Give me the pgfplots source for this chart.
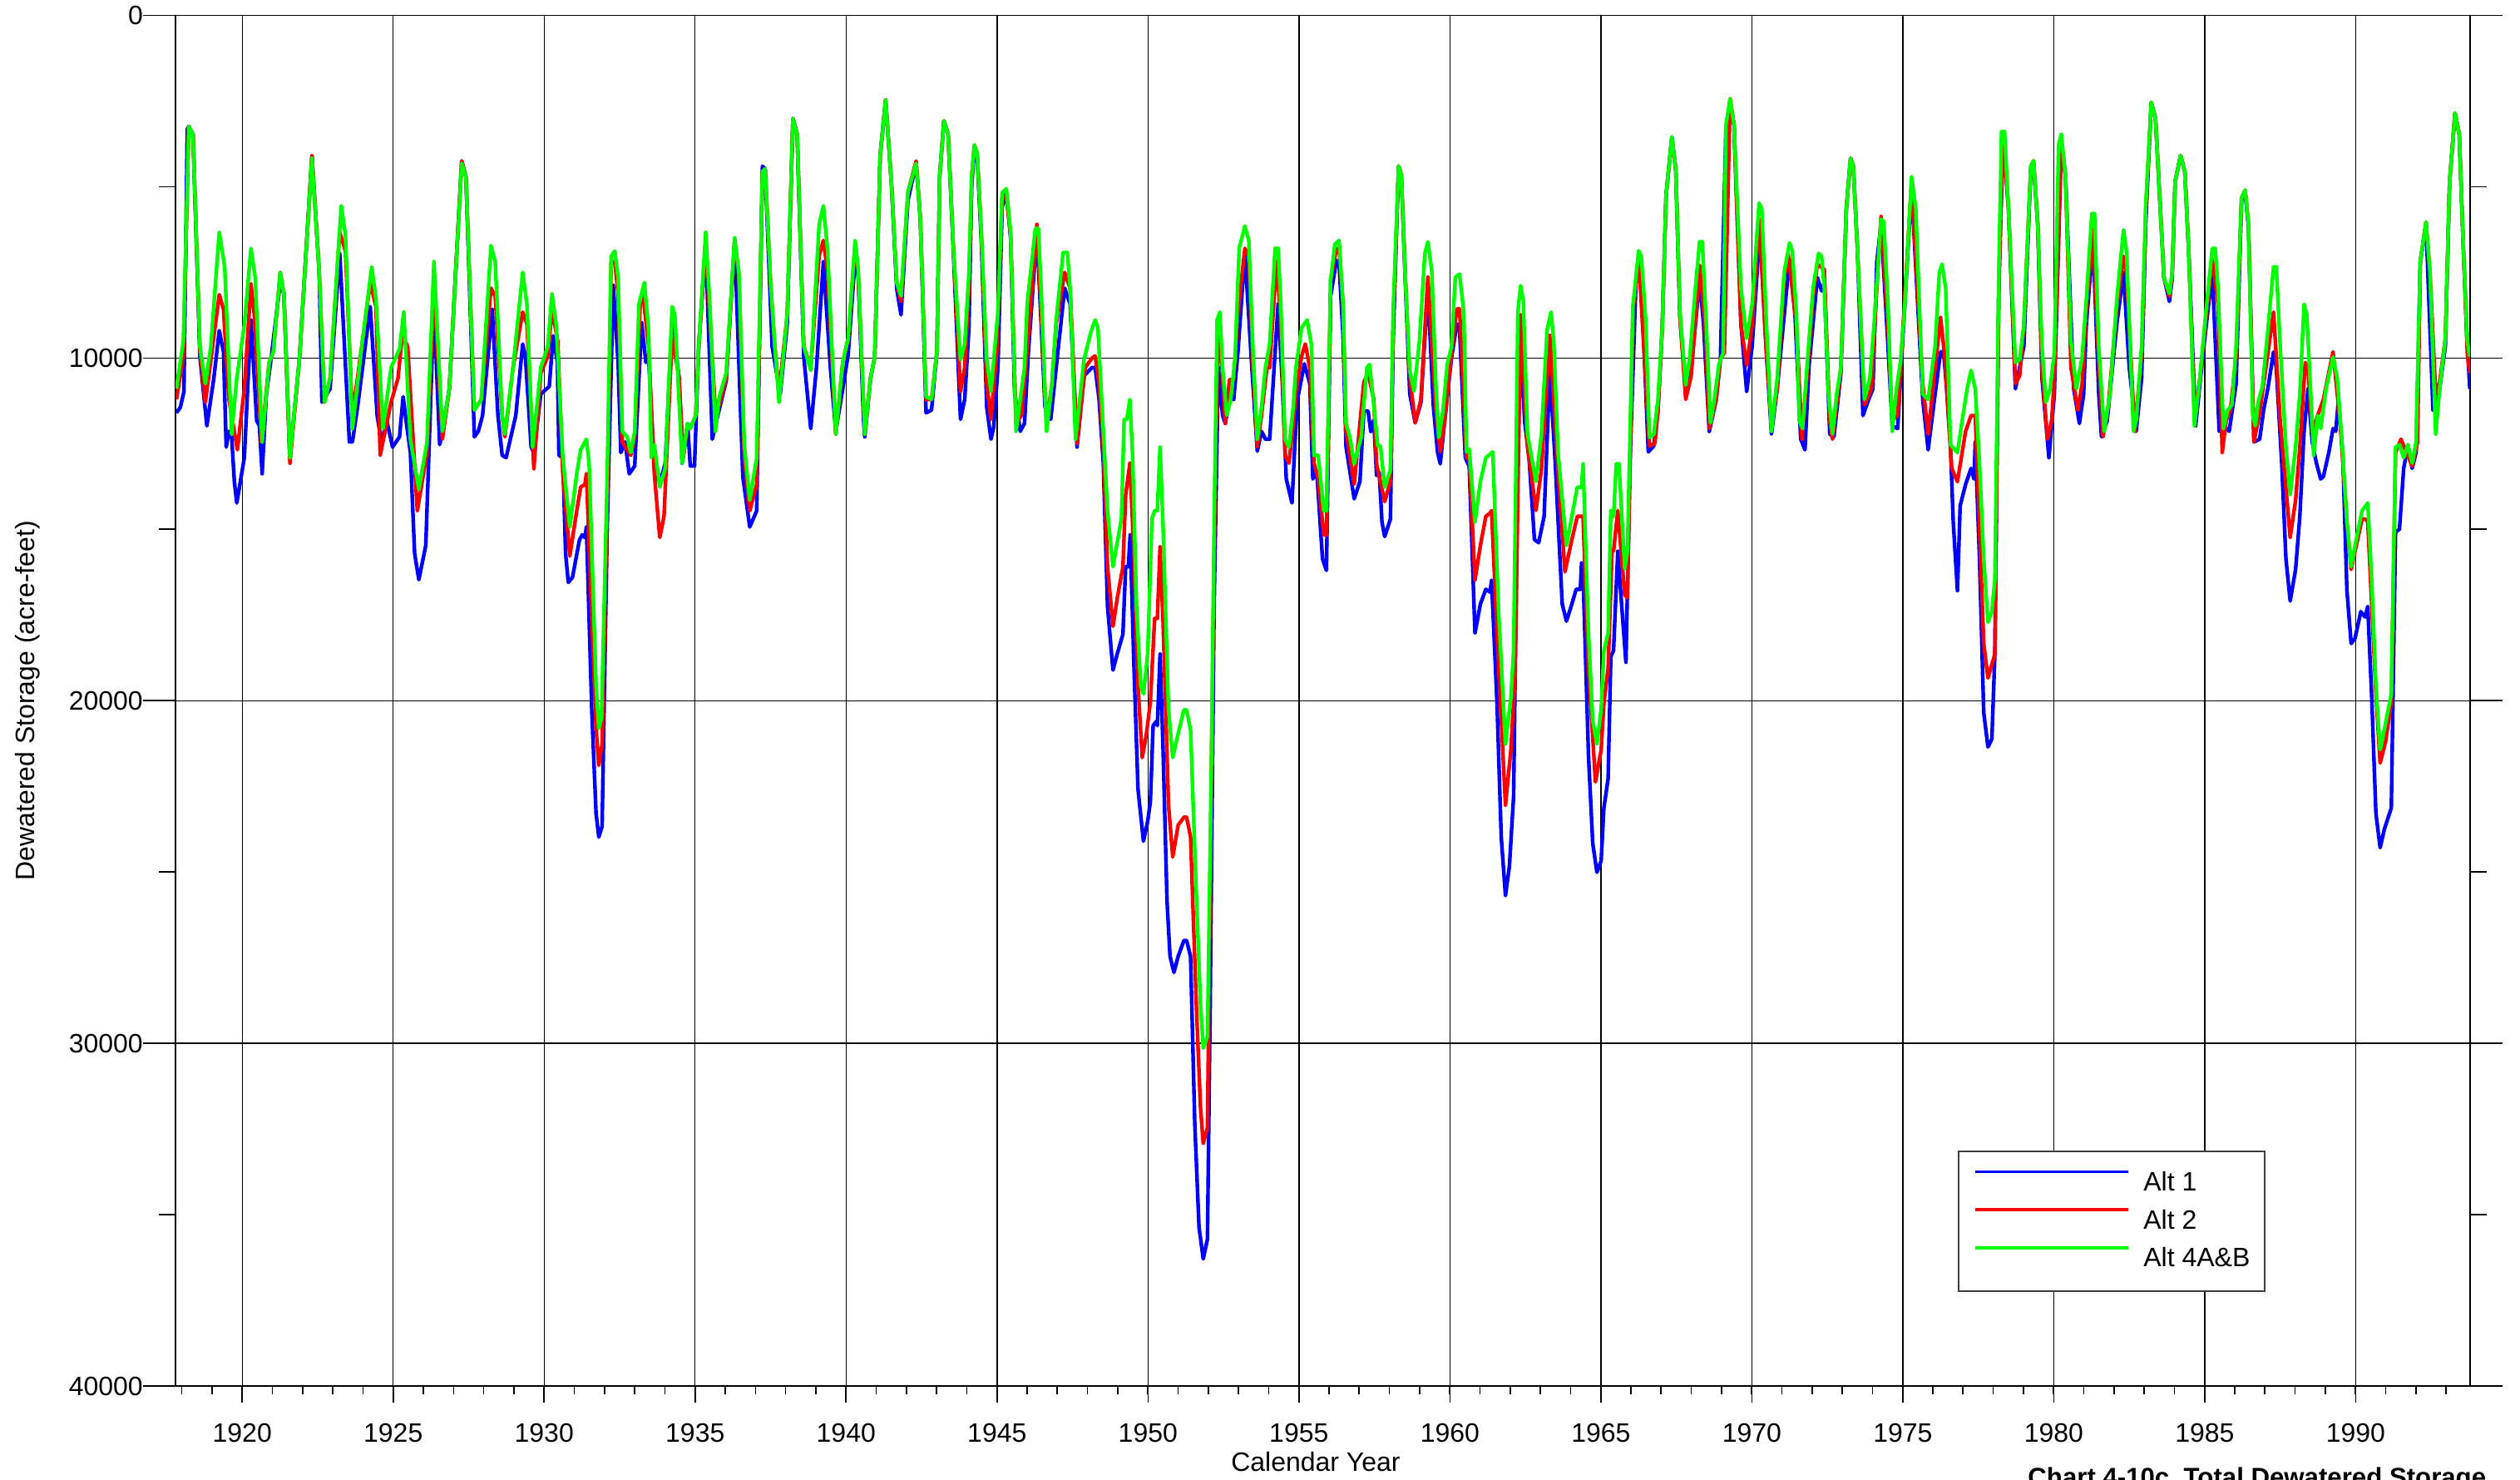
\documentclass[border=0pt]{standalone}
\usepackage{fontspec}
\setmainfont{Liberation Sans}
\usepackage{pgfplots}
\pgfplotsset{compat=1.18}
\definecolor{altblue}{RGB}{0,0,255}
\definecolor{altred}{RGB}{255,0,0}
\definecolor{altgreen}{RGB}{0,255,0}
\begin{document}
\begin{tikzpicture}
\begin{axis}[
  scale only axis, width=689.75pt, height=411.9pt,
  xmin=1917.79, xmax=1993.79, ymin=0, ymax=40000, y dir=reverse,
  xtick={1920,1925,...,1990}, minor xtick={1918,...,1993},
  ytick={0,10000,...,40000}, minor ytick={5000,15000,25000,35000},
  tick align=outside, xtick pos=left, ytick pos=both,
  xmajorgrids, ymajorgrids,
  grid style={black, line width=0.35pt},
  axis line style={black, line width=0.4pt},
  tick style={black, line width=0.4pt},
  xtick style={/pgfplots/major tick length=5pt, /pgfplots/minor tick length=2.5pt},
  ytick style={/pgfplots/major tick length=9.75pt, /pgfplots/minor tick length=5pt},
  scaled y ticks=false, scaled x ticks=false,
  /pgf/number format/1000 sep={},
  /pgf/number format/assume math mode=true,
  ticklabel style={font=\fontsize{8}{9.6}\selectfont},
  yticklabel style={xshift=-2pt},
  xticklabel style={yshift=-3.5pt},
  label style={font=\fontsize{8}{9.6}\selectfont},
  xlabel={Calendar Year},
  xlabel style={at={(axis description cs:0.4969,-0.0619)}, anchor=base},
  ylabel={Dewatered Storage (acre-feet)},
  ylabel style={at={(axis description cs:-0.0645,0.5)}, anchor=center},
  legend cell align=left,
  legend image code/.code={\draw[#1, line width=0.9pt] (0pt,0.36em) -- (46pt,0.36em);},
  legend style={at={(axis description cs:0.911,0.172)}, anchor=north east,
    draw=black!75, line width=0.5pt, fill=white,
    font=\fontsize{8}{9.6}\selectfont,
    inner xsep=4.5pt, inner ysep=5.8pt, row sep=3.7pt, column sep=4.25pt,
    nodes={inner sep=0pt}},
  every axis plot/.append style={line width=1.1pt, line join=round},
]
% Alt 1
\addplot[altblue] coordinates {
(1917.82,11600) (1917.95,11440) (1918.07,10980) (1918.18,3320) (1918.23,3240) (1918.37,3470) (1918.60,9970) (1918.83,11980) (1919.06,10590) (1919.24,9200) (1919.38,9820) (1919.47,12600) (1919.56,12140) (1919.65,12300) (1919.74,13610) (1919.82,14230) (1920.07,12910) (1920.29,8890) (1920.48,11830) (1920.57,11980) (1920.66,13380) (1920.80,11050) (1920.94,10130) (1921.26,7800) (1921.38,8120) (1921.58,12910) (1921.90,9970) (1922.31,4100) (1922.55,7500) (1922.64,11290) (1922.91,10900) (1923.23,6950) (1923.55,12450) (1923.65,12450) (1923.83,11370) (1924.24,8500) (1924.47,11680) (1924.61,12450) (1924.79,11830) (1924.98,12600) (1925.21,12300) (1925.33,11130) (1925.44,11910) (1925.57,12760) (1925.71,15700) (1925.85,16470) (1926.08,15470) (1926.35,8430) (1926.54,12530) (1926.63,12140) (1926.86,10900) (1927.27,4250) (1927.41,4710) (1927.69,12300) (1927.82,12140) (1927.96,11680) (1928.28,8580) (1928.47,11680) (1928.61,12840) (1928.74,12910) (1929.06,11680) (1929.29,9590) (1929.38,9970) (1929.57,12600) (1929.66,12760) (1929.89,11050) (1930.17,10830) (1930.30,9350) (1930.44,10130) (1930.49,12840) (1930.62,12910)
(1930.71,15700) (1930.80,16550) (1930.94,16400) (1931.17,15310) (1931.26,15160) (1931.35,15240) (1931.40,14930) (1931.58,20340) (1931.72,23290) (1931.81,23980) (1931.92,23670) (1932.09,14930) (1932.29,7880) (1932.45,10130) (1932.54,12760) (1932.68,12450) (1932.82,13380) (1933.00,13150) (1933.23,8970) (1933.37,10130) (1933.46,9970) (1933.65,13220) (1933.74,13530) (1933.92,13380) (1934.01,13070) (1934.24,8890) (1934.47,10590) (1934.57,13070) (1934.75,11910) (1934.84,13150) (1934.98,13150) (1935.12,9660) (1935.35,6720) (1935.57,12370) (1935.71,11830) (1936.03,10670) (1936.31,6570) (1936.58,13460) (1936.81,14930) (1937.04,14460) (1937.23,4400) (1937.32,4480) (1937.55,9660) (1937.82,11050) (1938.05,9040) (1938.24,3010) (1938.38,3470) (1938.60,9970) (1938.83,12060) (1939.02,10280) (1939.25,7190) (1939.48,10280) (1939.66,12140) (1939.89,10900) (1940.07,9900) (1940.30,7110) (1940.40,7600) (1940.58,11830) (1940.62,12300) (1940.81,10590) (1940.95,9970) (1941.13,4090) (1941.31,2470) (1941.50,4860) (1941.68,8000) (1941.82,8740) (1942.05,5400) (1942.32,4320) (1942.46,5950) (1942.65,11600) (1942.83,11520) (1943.01,9820) (1943.10,4710) (1943.24,3080) (1943.38,3470) (1943.56,7000)
(1943.79,11790) (1943.93,11210) (1944.07,9120) (1944.16,5000) (1944.25,3900) (1944.34,4100) (1944.48,6600) (1944.66,11440) (1944.80,12370) (1944.89,12020) (1945.03,10280) (1945.17,5600) (1945.31,5170) (1945.45,6500) (1945.58,10980) (1945.77,12140) (1945.91,11910) (1946.04,9820) (1946.32,6330) (1946.59,11440) (1946.78,11790) (1946.96,10280) (1947.24,7960) (1947.33,8200) (1947.42,8420) (1947.65,12600) (1947.88,10520) (1948.15,10280) (1948.25,10280) (1948.38,11210) (1948.52,13070) (1948.66,17250) (1948.84,19110) (1948.98,18640) (1949.17,18060) (1949.26,16090) (1949.35,16090) (1949.41,15160) (1949.53,18870) (1949.67,22590) (1949.85,24100) (1949.99,23520) (1950.08,22940) (1950.17,20730) (1950.27,20610) (1950.31,20730) (1950.40,18640) (1950.50,21430) (1950.63,25840) (1950.73,27460) (1950.86,27930) (1951.00,27460) (1951.19,27000) (1951.28,27000) (1951.41,27460) (1951.55,32340) (1951.69,35360) (1951.83,36290) (1951.97,35710) (1952.06,28860) (1952.19,17250) (1952.33,10280) (1952.47,11670) (1952.56,11910) (1952.70,11210) (1952.84,11210) (1952.98,9820) (1953.21,6920) (1953.44,10280) (1953.62,12720) (1953.76,12140) (1953.89,12370) (1954.03,12370) (1954.31,8420) (1954.45,10750) (1954.58,13530) (1954.77,14230) (1954.86,12600) (1954.95,11210) (1955.18,10170) (1955.36,10750) (1955.46,13530) (1955.59,13300) (1955.78,15860) (1955.91,16200) (1956.05,8200) (1956.24,7150) (1956.33,7260) (1956.46,9350) (1956.56,12600)
(1956.83,14110) (1957.02,13600) (1957.15,11550) (1957.29,11550) (1957.38,12150) (1957.48,11810) (1957.57,13430) (1957.66,13340) (1957.75,14790) (1957.84,15210) (1958.03,14700) (1958.12,9500) (1958.30,4400) (1958.39,4660) (1958.53,7900) (1958.67,11040) (1958.85,11890) (1959.04,11300) (1959.27,7980) (1959.45,11380) (1959.59,12740) (1959.68,13090) (1959.82,11890) (1960.05,10020) (1960.23,9000) (1960.32,9170) (1960.51,12910) (1960.64,13170) (1960.83,18030) (1961.01,17180) (1961.19,16750) (1961.33,16830) (1961.38,16490) (1961.56,20070) (1961.70,23980) (1961.84,25690) (1961.97,24840) (1962.11,22790) (1962.25,12920) (1962.34,9680) (1962.48,11890) (1962.62,12910) (1962.80,15300) (1962.94,15390) (1963.12,14620) (1963.31,10360) (1963.49,13090) (1963.72,17180) (1963.86,17680) (1964.04,17180) (1964.18,16750) (1964.32,16750) (1964.36,15980) (1964.41,16320) (1964.59,21600) (1964.73,24160) (1964.87,25010) (1965.01,24670) (1965.10,23130) (1965.24,22280) (1965.33,18710) (1965.42,18540) (1965.56,15640) (1965.70,17350) (1965.83,18880) (1965.97,12920) (1966.16,7810) (1966.25,7640) (1966.34,7810) (1966.57,12740) (1966.75,12570) (1966.89,11550) (1967.03,9170) (1967.16,5250) (1967.35,3550) (1967.48,4480) (1967.62,8830) (1967.81,10870) (1967.99,10360) (1968.27,7720) (1968.40,9000) (1968.59,12150) (1968.82,11210) (1968.96,10020) (1969.14,3380) (1969.28,2530) (1969.41,3210)
(1969.64,9000) (1969.83,10980) (1970.01,9660) (1970.27,6260) (1970.47,9660) (1970.65,12220) (1970.84,10900) (1971.25,7110) (1971.43,8740) (1971.62,12370) (1971.76,12680) (1971.89,10280) (1972.17,7650) (1972.31,8040) (1972.40,7800) (1972.58,12220) (1972.72,12300) (1972.95,10440) (1973.13,5640) (1973.27,4170) (1973.36,4400) (1973.50,6880) (1973.68,11680) (1973.87,11210) (1974.01,10900) (1974.14,7190) (1974.28,6100) (1974.51,9660) (1974.65,11980) (1974.83,12060) (1974.97,9900) (1975.29,5020) (1975.66,11210) (1975.84,12680) (1976.07,11050) (1976.25,9820) (1976.35,9820) (1976.44,10750) (1976.58,12600) (1976.67,14770) (1976.81,16790) (1976.90,14310) (1977.08,13690) (1977.26,13220) (1977.36,13530) (1977.40,12450) (1977.54,15860) (1977.68,20340) (1977.82,21350) (1977.95,21120) (1978.05,18640) (1978.18,7960) (1978.32,3550) (1978.50,5640) (1978.73,10900) (1979.01,9660) (1979.24,4480) (1979.33,4320) (1979.47,6100) (1979.61,10590) (1979.84,12910) (1980.02,11050) (1980.25,3700) (1980.39,4710) (1980.66,10900) (1980.85,11910) (1980.99,11050) (1981.08,9000) (1981.30,6570) (1981.49,11050) (1981.58,12300) (1981.77,11830) (1982.09,9000) (1982.31,7500) (1982.50,10280)
(1982.73,12140) (1982.91,10590) (1983.05,6000) (1983.23,2540) (1983.37,3010) (1983.51,5330) (1983.65,7650) (1983.83,8350) (1983.92,7700) (1984.02,4860) (1984.20,4090) (1984.34,4550) (1984.47,6880) (1984.70,11980) (1984.84,10750) (1985.03,9200) (1985.25,7500) (1985.48,12140) (1985.62,11980) (1985.81,12140) (1986.04,10750) (1986.22,5400) (1986.34,5170) (1986.45,6200) (1986.63,12450) (1986.82,12370) (1986.95,11520) (1987.09,10900) (1987.28,9820) (1987.37,10280) (1987.55,13070) (1987.69,15860) (1987.83,17090) (1988.01,16170) (1988.15,14620) (1988.29,12140) (1988.42,10900) (1988.56,12450) (1988.70,13070) (1988.84,13530) (1988.93,13460) (1989.11,12760) (1989.25,12060) (1989.34,12140) (1989.43,11210) (1989.57,12760) (1989.71,16790) (1989.85,18330) (1989.98,18180) (1990.17,17400) (1990.31,17560) (1990.40,17250) (1990.53,19880) (1990.67,23290) (1990.81,24290) (1990.95,23750) (1991.18,23130) (1991.32,15080) (1991.45,15000) (1991.59,13220) (1991.73,12530) (1991.87,13220) (1992.00,12760) (1992.14,7190) (1992.33,6100) (1992.56,11520) (1992.65,11520) (1992.78,10900) (1992.97,9660) (1993.11,4860) (1993.29,2850) (1993.43,3470) (1993.57,6880) (1993.70,9660) (1993.78,10900)
};
\addlegendentry{Alt 1}
% Alt 2
\addplot[altred] coordinates {
(1917.82,11210) (1918.05,9970) (1918.23,3240) (1918.37,3470) (1918.60,9800) (1918.78,11290) (1919.24,8150) (1919.38,8580) (1919.56,11210) (1919.84,12680) (1920.07,10900) (1920.29,7840) (1920.40,8740) (1920.64,12450) (1920.89,10130) (1921.03,9820) (1921.26,7500) (1921.38,8120) (1921.58,13070) (1921.90,9970) (1922.31,4100) (1922.55,7500) (1922.73,11290) (1922.91,10590) (1923.23,6330) (1923.42,6880) (1923.65,11680) (1923.97,9590) (1924.24,7800) (1924.43,8500) (1924.57,12840) (1924.93,11290) (1925.16,10590) (1925.30,9350) (1925.48,9660) (1925.80,14460) (1926.12,12760) (1926.35,7960) (1926.63,12370) (1926.86,10900) (1927.27,4250) (1927.41,4710) (1927.69,11520) (1927.92,11210) (1928.24,7960) (1928.38,8200) (1928.61,11680) (1928.70,12300) (1928.97,10280) (1929.29,8660) (1929.43,9000) (1929.66,13230) (1929.89,10440) (1930.12,9950) (1930.26,8580) (1930.45,9500) (1930.62,13380)
(1930.85,15780) (1931.08,14460) (1931.21,13770) (1931.35,13690) (1931.40,13380) (1931.72,20810) (1931.81,21890) (1931.92,21270) (1932.09,14150) (1932.22,7190) (1932.34,7190) (1932.45,8120) (1932.59,12450) (1932.87,12840) (1933.00,12300) (1933.19,8270) (1933.28,8190) (1933.46,9660) (1933.65,13380) (1933.83,15240) (1933.97,14620) (1934.24,9350) (1934.47,10590) (1934.61,12910) (1934.75,11980) (1934.84,12060) (1935.02,11680) (1935.12,9660) (1935.35,6720) (1935.67,11520) (1935.80,11370) (1936.03,10590) (1936.31,6570) (1936.45,7600) (1936.63,12910) (1936.81,14460) (1937.04,13690) (1937.23,4560) (1937.32,4480) (1937.50,7800) (1937.64,9660) (1937.78,11000) (1938.05,8740) (1938.24,3010) (1938.38,3470) (1938.60,9660) (1938.83,10280) (1939.11,7000) (1939.25,6570) (1939.39,7500) (1939.66,12220) (1939.89,10130) (1940.07,9430) (1940.30,6720) (1940.40,7500) (1940.62,12220) (1940.81,10590) (1940.95,9970) (1941.13,4090) (1941.31,2470) (1941.50,4860) (1941.68,7800) (1941.82,8350) (1942.05,5170) (1942.32,4250) (1942.46,5950) (1942.65,11210) (1942.83,11210) (1943.01,9820) (1943.10,4710) (1943.24,3080) (1943.38,3470) (1943.56,6880)
(1943.79,10980) (1943.93,10280) (1944.07,7960) (1944.16,4710) (1944.25,3780) (1944.34,4010) (1944.48,6330) (1944.66,10750) (1944.80,11790) (1944.99,9820) (1945.17,5300) (1945.31,5290) (1945.45,6400) (1945.63,11910) (1945.81,11670) (1945.95,10280) (1946.32,6100) (1946.64,11910) (1946.82,10750) (1946.96,9000) (1947.24,7500) (1947.42,7960) (1947.65,12490) (1947.92,10280) (1948.15,10000) (1948.25,9940) (1948.38,10750) (1948.52,12600) (1948.66,16090) (1948.84,17830) (1948.98,17020) (1949.17,16090) (1949.26,14000) (1949.40,13070) (1949.53,15620) (1949.67,19570) (1949.81,21660) (1949.95,20960) (1950.08,20030) (1950.22,17600) (1950.31,17600) (1950.40,15510) (1950.50,17710) (1950.68,23050) (1950.82,24560) (1951.00,23630) (1951.19,23400) (1951.28,23400) (1951.41,23980) (1951.60,28860) (1951.74,31880) (1951.83,32920) (1951.97,32460) (1952.10,21890) (1952.24,12600) (1952.33,9350) (1952.42,9820) (1952.56,11910) (1952.70,10630) (1952.84,10630) (1952.98,8650) (1953.21,6800) (1953.34,7030) (1953.48,10280) (1953.62,12600) (1953.76,11670) (1953.94,10280) (1954.03,10280) (1954.26,7150) (1954.40,8890) (1954.54,12840) (1954.67,13070) (1954.81,11910) (1954.90,10980) (1955.09,9940) (1955.21,9590) (1955.36,10280) (1955.50,13070) (1955.64,13530) (1955.82,15160) (1955.91,15160) (1956.05,7730) (1956.24,6800) (1956.33,6800) (1956.46,8420) (1956.56,12140)
(1956.83,13680) (1957.15,10700) (1957.29,10450) (1957.48,11210) (1957.57,13090) (1957.84,14190) (1958.03,13600) (1958.12,9000) (1958.30,4400) (1958.39,4660) (1958.53,7800) (1958.67,10530) (1958.85,11890) (1959.04,11210) (1959.27,7640) (1959.54,11550) (1959.68,12740) (1959.82,11890) (1960.05,9850) (1960.23,8570) (1960.32,8570) (1960.55,12910) (1960.64,12910) (1960.83,16490) (1961.01,15470) (1961.19,14620) (1961.33,14530) (1961.38,14450) (1961.56,18030) (1961.84,23050) (1962.02,21430) (1962.16,19220) (1962.34,8740) (1962.57,12570) (1962.85,14450) (1963.03,13260) (1963.31,9340) (1963.58,13260) (1963.81,16240) (1964.04,15300) (1964.22,14620) (1964.41,14620) (1964.59,19050) (1964.82,22370) (1965.01,21430) (1965.10,20070) (1965.24,19050) (1965.37,15640) (1965.42,15640) (1965.56,14450) (1965.79,16920) (1965.88,17000) (1966.06,8660) (1966.25,7040) (1966.61,12570) (1966.79,12490) (1966.89,11550) (1967.03,9170) (1967.16,5250) (1967.35,3630) (1967.48,4480) (1967.62,8830) (1967.81,11210) (1967.99,10530) (1968.27,7300) (1968.45,9000) (1968.59,12060) (1968.82,11210) (1968.96,10020) (1969.09,9850) (1969.28,2440) (1969.41,3210)
(1969.64,9040) (1969.83,10210) (1970.01,9040) (1970.24,5950) (1970.47,9660) (1970.65,11980) (1970.84,10900) (1971.07,7700) (1971.20,6950) (1971.48,9040) (1971.66,12370) (1971.85,10280) (1972.03,8200) (1972.17,7260) (1972.40,7420) (1972.58,11830) (1972.67,12370) (1972.95,10280) (1973.13,5640) (1973.27,4170) (1973.36,4400) (1973.50,6880) (1973.73,11370) (1973.96,10900) (1974.14,7960) (1974.28,5870) (1974.51,9040) (1974.65,11830) (1974.83,11670) (1974.97,9660) (1975.29,4860) (1975.66,10750) (1975.84,12220) (1976.07,10280) (1976.25,8810) (1976.39,9970) (1976.62,13220) (1976.81,13610) (1977.08,12140) (1977.26,11680) (1977.40,11680) (1977.54,14930) (1977.68,18330) (1977.82,19340) (1977.95,18950) (1978.05,18640) (1978.18,7960) (1978.32,3470) (1978.50,5640) (1978.73,10750) (1978.87,10520) (1979.01,9040) (1979.24,4400) (1979.33,4240) (1979.47,6100) (1979.61,10280) (1979.79,12370) (1979.93,11830) (1980.02,10590) (1980.25,3630) (1980.39,4710) (1980.57,10280) (1980.80,11520) (1980.94,10750) (1981.08,8500) (1981.30,6260) (1981.49,10130) (1981.63,12300) (1981.81,11370) (1982.09,8500) (1982.31,7030) (1982.41,7500)
(1982.68,12140) (1982.91,9900) (1983.05,5640) (1983.23,2540) (1983.37,3010) (1983.51,5330) (1983.65,7650) (1983.83,8200) (1983.92,7600) (1984.02,4860) (1984.20,4090) (1984.34,4550) (1984.47,6880) (1984.66,11680) (1984.84,10590) (1985.03,8900) (1985.25,7110) (1985.44,8430) (1985.58,12760) (1985.71,11830) (1985.85,11520) (1986.04,9970) (1986.22,5330) (1986.34,5100) (1986.45,6100) (1986.63,12450) (1986.82,11600) (1987.00,10440) (1987.28,8660) (1987.50,11830) (1987.83,15240) (1988.01,14150) (1988.15,12600) (1988.33,10130) (1988.42,10280) (1988.56,12140) (1988.74,11680) (1988.93,11210) (1989.25,9820) (1989.48,11830) (1989.71,14770) (1989.85,16170) (1990.21,14700) (1990.31,14700) (1990.40,14770) (1990.67,19800) (1990.81,21820) (1990.99,21200) (1991.18,20030) (1991.32,12760) (1991.50,12370) (1991.87,13150) (1992.05,12450) (1992.14,7190) (1992.33,6030) (1992.46,7500) (1992.65,11050) (1992.78,10700) (1992.97,9430) (1993.11,4860) (1993.29,2850) (1993.43,3470) (1993.57,6880) (1993.70,9900) (1993.78,10440)
};
\addlegendentry{Alt 2}
% Alt 4A&B
\addplot[altgreen] coordinates {
(1917.82,10900) (1918.05,9510) (1918.23,3240) (1918.37,3470) (1918.60,9660) (1918.78,10750) (1918.96,9660) (1919.24,6330) (1919.42,7340) (1919.65,12220) (1919.82,10590) (1920.07,9040) (1920.29,6800) (1920.43,7650) (1920.66,12450) (1920.89,10130) (1921.03,9820) (1921.26,7500) (1921.38,8120) (1921.58,12910) (1921.90,9970) (1922.31,4170) (1922.55,7500) (1922.73,11290) (1922.91,10590) (1923.28,5560) (1923.42,6410) (1923.65,12060) (1923.97,9590) (1924.29,7340) (1924.43,8270) (1924.66,12060) (1924.93,10280) (1925.21,9740) (1925.35,8660) (1925.57,12370) (1925.85,13840) (1926.12,12450) (1926.35,7190) (1926.63,12140) (1926.86,10900) (1927.27,4320) (1927.41,4710) (1927.69,11520) (1927.92,11210) (1928.24,6720) (1928.38,7190) (1928.61,11680) (1928.70,12220) (1928.97,10280) (1929.29,7500) (1929.43,8430) (1929.62,12600) (1929.89,10280) (1930.12,9660) (1930.26,8120) (1930.40,9040) (1930.62,12910)
(1930.85,14930) (1931.08,13380) (1931.21,12680) (1931.40,12370) (1931.49,13070) (1931.72,19570) (1931.81,20810) (1931.90,20500) (1932.09,13380) (1932.22,7030) (1932.34,6880) (1932.45,7650) (1932.59,12140) (1932.75,12300) (1932.87,12760) (1933.00,12140) (1933.14,8430) (1933.32,7800) (1933.46,9200) (1933.55,12910) (1933.65,12530) (1933.83,13770) (1934.01,13220) (1934.24,8500) (1934.33,8740) (1934.57,13070) (1934.75,11910) (1934.84,12060) (1935.02,11680) (1935.12,9660) (1935.35,6330) (1935.48,8270) (1935.67,12140) (1935.80,11130) (1936.03,10440) (1936.31,6490) (1936.45,7500) (1936.63,12530) (1936.81,14150) (1937.04,12910) (1937.23,4560) (1937.32,4480) (1937.50,7800) (1937.64,9660) (1937.78,11290) (1938.05,8740) (1938.24,3010) (1938.38,3470) (1938.60,9660) (1938.83,10360) (1939.11,6100) (1939.25,5560) (1939.39,6880) (1939.66,12220) (1939.89,10130) (1940.07,9430) (1940.30,6570) (1940.40,7340) (1940.62,12220) (1940.81,10590) (1940.95,9970) (1941.13,4090) (1941.31,2470) (1941.50,4860) (1941.68,7800) (1941.82,8190) (1942.05,5170) (1942.32,4320) (1942.46,5950) (1942.65,11130) (1942.83,11210) (1943.01,9820) (1943.10,4710) (1943.24,3080) (1943.38,3470) (1943.56,6880)
(1943.79,10050) (1943.93,9590) (1944.07,7500) (1944.16,4710) (1944.25,3780) (1944.34,4010) (1944.48,6330) (1944.66,10050) (1944.80,10980) (1945.03,8660) (1945.17,5170) (1945.31,5060) (1945.45,6330) (1945.63,12140) (1945.77,11210) (1945.91,10280) (1946.00,8420) (1946.27,6220) (1946.37,6220) (1946.46,7960) (1946.64,12140) (1946.82,10750) (1946.96,8890) (1947.19,6920) (1947.33,6920) (1947.42,7960) (1947.60,12370) (1947.88,10050) (1948.11,9240) (1948.25,8890) (1948.34,9120) (1948.48,11440) (1948.66,14460) (1948.84,16090) (1948.98,15390) (1949.12,14690) (1949.21,11790) (1949.30,11790) (1949.40,11210) (1949.49,12840) (1949.62,17250) (1949.76,19570) (1949.85,19800) (1949.99,18640) (1950.13,14690) (1950.22,14460) (1950.31,14460) (1950.40,12600) (1950.50,14930) (1950.68,20270) (1950.82,21660) (1951.00,20960) (1951.19,20270) (1951.28,20270) (1951.41,20850) (1951.60,25610) (1951.74,28860) (1951.83,30140) (1951.97,29790) (1952.10,21890) (1952.19,14930) (1952.29,8890) (1952.38,8660) (1952.47,10280) (1952.61,11670) (1952.74,11210) (1952.88,10050) (1953.02,6800) (1953.21,6150) (1953.34,6570) (1953.48,9820) (1953.62,12370) (1953.76,11440) (1953.89,10280) (1954.03,9590) (1954.21,6800) (1954.31,6800) (1954.40,8420) (1954.54,12370) (1954.67,12600) (1954.81,11440) (1954.90,10280) (1955.09,9120) (1955.27,8890) (1955.41,9590) (1955.50,12840) (1955.64,12840) (1955.82,14460) (1955.91,14460) (1956.05,7730) (1956.19,6680) (1956.33,6570) (1956.46,8420) (1956.56,11910)
(1956.69,12320) (1956.83,13090) (1957.06,12320) (1957.25,10280) (1957.34,10190) (1957.48,11380) (1957.61,12570) (1957.70,12570) (1957.84,13770) (1958.03,13260) (1958.12,8660) (1958.30,4400) (1958.39,4660) (1958.53,7800) (1958.67,10360) (1958.81,10960) (1958.99,9510) (1959.17,6950) (1959.27,6610) (1959.40,7470) (1959.54,10870) (1959.63,12320) (1959.77,11550) (1959.91,10190) (1960.05,9680) (1960.18,7640) (1960.32,7550) (1960.46,8660) (1960.55,12740) (1960.64,12660) (1960.83,14790) (1961.01,13600) (1961.19,12910) (1961.42,12740) (1961.61,17340) (1961.84,21260) (1962.02,19900) (1962.11,18540) (1962.25,8660) (1962.34,7890) (1962.43,8320) (1962.57,12230) (1962.85,13600) (1963.03,12230) (1963.22,9170) (1963.35,8660) (1963.44,9510) (1963.58,12740) (1963.86,15470) (1964.04,14620) (1964.22,13770) (1964.36,13770) (1964.41,13090) (1964.59,18030) (1964.73,20580) (1964.87,21260) (1965.01,20240) (1965.10,18540) (1965.24,18030) (1965.33,14450) (1965.42,14620) (1965.51,13090) (1965.60,13090) (1965.79,16150) (1965.88,15640) (1966.06,8490) (1966.25,6870) (1966.34,7040) (1966.48,8830) (1966.61,12320) (1966.75,12230) (1966.89,11210) (1967.03,9170) (1967.16,5250) (1967.35,3550) (1967.48,4480) (1967.62,8660) (1967.81,10790) (1967.94,10020) (1968.13,7980) (1968.27,6610) (1968.36,6610) (1968.50,9170) (1968.63,11890) (1968.77,11130) (1968.91,10190) (1969.05,9850) (1969.14,3210) (1969.28,2440) (1969.41,3210)
(1969.64,7960) (1969.83,9430) (1970.01,8430) (1970.24,5480) (1970.33,5640) (1970.47,8740) (1970.65,12140) (1970.84,10590) (1971.07,7500) (1971.25,6640) (1971.34,6880) (1971.48,8740) (1971.57,11830) (1971.68,12060) (1971.85,9970) (1972.03,7960) (1972.21,6950) (1972.31,7030) (1972.40,7960) (1972.54,11050) (1972.67,12220) (1972.81,11050) (1972.95,10280) (1973.13,5640) (1973.27,4170) (1973.36,4400) (1973.50,6880) (1973.73,11210) (1973.91,10590) (1974.05,9000) (1974.28,5950) (1974.37,6030) (1974.51,8430) (1974.65,12140) (1974.79,10900) (1974.92,10130) (1975.06,8580) (1975.29,4710) (1975.43,5640) (1975.66,11050) (1975.84,11210) (1976.07,9660) (1976.21,7500) (1976.30,7260) (1976.42,7960) (1976.58,12530) (1976.81,12760) (1976.94,11980) (1977.13,10900) (1977.26,10360) (1977.40,10900) (1977.54,13070) (1977.68,15860) (1977.82,17710) (1977.95,17400) (1978.05,16470) (1978.18,7500) (1978.27,3390) (1978.37,3390) (1978.50,5640) (1978.73,10130) (1978.87,10050) (1979.01,9040) (1979.24,4400) (1979.33,4240) (1979.47,6100) (1979.61,9660) (1979.74,11290) (1979.88,10900) (1980.02,9820) (1980.16,3780) (1980.25,3470) (1980.39,4710) (1980.57,9510) (1980.75,10900) (1980.94,9970) (1981.08,8270) (1981.26,5790) (1981.35,5790) (1981.49,9660) (1981.67,12140) (1981.86,11050) (1982.09,8270) (1982.31,6260) (1982.41,6880)
(1982.64,12140) (1982.73,11830) (1982.91,9660) (1983.05,5480) (1983.23,2540) (1983.37,3010) (1983.51,5330) (1983.65,7650) (1983.83,8120) (1983.92,7500) (1984.02,4860) (1984.20,4090) (1984.34,4550) (1984.47,6880) (1984.66,11980) (1984.84,10590) (1985.03,8740) (1985.25,6800) (1985.35,6800) (1985.44,7960) (1985.62,12060) (1985.76,11520) (1985.90,11370) (1986.04,9660) (1986.22,5330) (1986.34,5100) (1986.45,6100) (1986.59,11680) (1986.68,11980) (1986.77,11290) (1986.91,10830) (1987.09,9200) (1987.28,7340) (1987.37,7340) (1987.50,9660) (1987.69,12600) (1987.83,13990) (1988.01,12600) (1988.15,11050) (1988.29,8430) (1988.38,8740) (1988.47,10280) (1988.61,12840) (1988.74,11680) (1988.84,12060) (1989.02,10900) (1989.25,9970) (1989.39,10590) (1989.57,12760) (1989.71,14770) (1989.85,16090) (1990.03,15240) (1990.21,14460) (1990.40,14230) (1990.53,16470) (1990.67,19570) (1990.81,21430) (1990.99,20660) (1991.18,19800) (1991.32,12600) (1991.45,12530) (1991.59,12910) (1991.73,12530) (1991.87,13070) (1992.00,12450) (1992.14,7190) (1992.33,6030) (1992.46,7500) (1992.65,12220) (1992.78,10900) (1992.97,9430) (1993.11,4860) (1993.29,2850) (1993.43,3470) (1993.57,6880) (1993.70,9510) (1993.78,9970)
};
\addlegendentry{Alt 4A\&B}
\end{axis}
\node[anchor=north east, inner sep=0pt, font=\bfseries\fontsize{7.8}{9}\selectfont] at (694.75pt,-24.25pt) {Chart 4-10c\ \ Total Dewatered Storage};
\pgfresetboundingbox
\path[use as bounding box] (-52.75pt,-28pt) rectangle (704.75pt,416.5pt);
\end{tikzpicture}
\end{document}
